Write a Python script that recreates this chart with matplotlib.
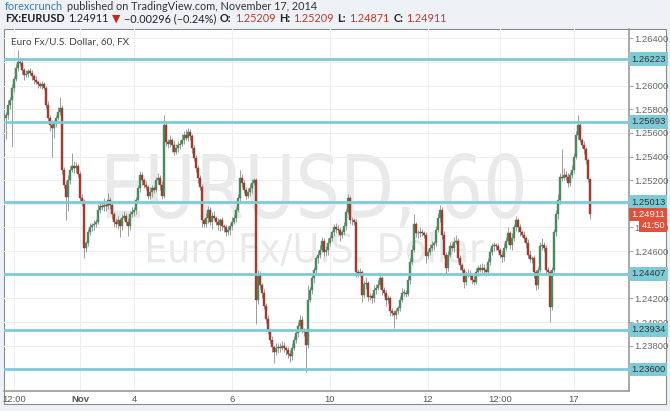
import matplotlib
matplotlib.use("Agg")
import matplotlib.pyplot as plt
import numpy as np
from matplotlib.patches import Rectangle, PathPatch
from matplotlib.textpath import TextPath
from matplotlib.font_manager import FontProperties
from matplotlib.transforms import Affine2D, IdentityTransform

# --- veri: EURUSD saatlik mumlar (kapanışlar), ilk açılış ---
ilk_acilis = 1.2573
kapanis = [
    1.2575, 1.2584, 1.2588, 1.2598, 1.2606, 1.2615, 1.2620, 1.2619, 1.2613, 1.2609,
    1.2610, 1.2612, 1.2611, 1.2608, 1.2605, 1.2603, 1.2601, 1.2600, 1.2601, 1.2598,
    1.2584, 1.2573, 1.2567, 1.2564, 1.2568, 1.2573, 1.2578, 1.2581, 1.2529, 1.2516,
    1.2506, 1.2520, 1.2529, 1.2532, 1.2530, 1.2532, 1.2525, 1.2505, 1.2502, 1.2463,
    1.2467, 1.2476, 1.2480, 1.2482, 1.2483, 1.2485, 1.2495, 1.2498, 1.2497, 1.2499,
    1.2498, 1.2503, 1.2499, 1.2491, 1.2485, 1.2483, 1.2486, 1.2481, 1.2488, 1.2490,
    1.2485, 1.2481, 1.2491, 1.2493, 1.2495, 1.2503, 1.2513, 1.2524, 1.2520, 1.2516,
    1.2514, 1.2507, 1.2510, 1.2513, 1.2512, 1.2520, 1.2522, 1.2516, 1.2507, 1.2567,
    1.2552, 1.2551, 1.2554, 1.2550, 1.2544, 1.2547, 1.2550, 1.2551, 1.2554, 1.2558,
    1.2556, 1.2561, 1.2557, 1.2547, 1.2539, 1.2530, 1.2522, 1.2514, 1.2486, 1.2483,
    1.2488, 1.2495, 1.2485, 1.2490, 1.2488, 1.2485, 1.2482, 1.2486, 1.2481, 1.2480,
    1.2476, 1.2478, 1.2481, 1.2485, 1.2488, 1.2495, 1.2505, 1.2522, 1.2518, 1.2512,
    1.2507, 1.2510, 1.2513, 1.2518, 1.2520, 1.2419, 1.2440, 1.2431, 1.2425, 1.2414,
    1.2403, 1.2393, 1.2385, 1.2379, 1.2375, 1.2378, 1.2379, 1.2378, 1.2380, 1.2378,
    1.2376, 1.2373, 1.2371, 1.2378, 1.2385, 1.2391, 1.2397, 1.2402, 1.2393, 1.2392,
    1.2381, 1.2419, 1.2427, 1.2437, 1.2444, 1.2454, 1.2457, 1.2461, 1.2469, 1.2459,
    1.2461, 1.2467, 1.2471, 1.2476, 1.2480, 1.2479, 1.2478, 1.2474, 1.2476, 1.2481,
    1.2493, 1.2505, 1.2486, 1.2486, 1.2485, 1.2442, 1.2441, 1.2442, 1.2423, 1.2432,
    1.2433, 1.2421, 1.2422, 1.2420, 1.2427, 1.2429, 1.2431, 1.2437, 1.2427, 1.2425,
    1.2419, 1.2420, 1.2409, 1.2408, 1.2406, 1.2409, 1.2412, 1.2419, 1.2425, 1.2425,
    1.2424, 1.2436, 1.2451, 1.2461, 1.2483, 1.2475, 1.2475, 1.2476, 1.2475, 1.2474,
    1.2456, 1.2459, 1.2463, 1.2465, 1.2467, 1.2478, 1.2488, 1.2495, 1.2474, 1.2457,
    1.2446, 1.2457, 1.2464, 1.2463, 1.2468, 1.2469, 1.2454, 1.2448, 1.2444, 1.2434,
    1.2440, 1.2441, 1.2439, 1.2436, 1.2434, 1.2442, 1.2446, 1.2444, 1.2446, 1.2444,
    1.2442, 1.2451, 1.2459, 1.2464, 1.2465, 1.2464, 1.2461, 1.2457, 1.2455, 1.2463,
    1.2469, 1.2475, 1.2465, 1.2471, 1.2480, 1.2486, 1.2480, 1.2476, 1.2474, 1.2471,
    1.2467, 1.2457, 1.2453, 1.2454, 1.2442, 1.2431, 1.2444, 1.2464, 1.2465, 1.2463,
    1.2444, 1.2442, 1.2413, 1.2444, 1.2476, 1.2491, 1.2503, 1.2523, 1.2522, 1.2524,
    1.2523, 1.2518, 1.2524, 1.2529, 1.2540, 1.2558, 1.2567, 1.2554, 1.2550, 1.2546,
    1.2537, 1.25209, 1.24911,
]
# fitil uzunlukları (pip)
ust_fitil = [
    3, 4, 2, 3, 2, 3, 10, 4, 3, 2, 3, 2, 3, 2, 2, 3, 2, 2, 3, 2,
    2, 3, 2, 4, 3, 2, 4, 9, 3, 2, 3, 4, 3, 11, 4, 3, 2, 3, 3, 2,
    2, 3, 4, 2, 3, 2, 5, 3, 4, 6, 2, 6, 3, 2, 2, 3, 4, 2, 3, 4,
    2, 3, 3, 4, 2, 3, 3, 4, 3, 2, 3, 2, 4, 3, 2, 3, 4, 2, 3, 8,
    2, 3, 4, 2, 3, 4, 3, 3, 5, 4, 5, 3, 2, 2, 3, 2, 3, 2, 3, 2,
    4, 3, 2, 3, 4, 2, 3, 2, 3, 2, 2, 3, 3, 4, 3, 2, 3, 7, 3, 2,
    2, 3, 4, 3, 2, 2, 4, 3, 2, 3, 2, 3, 2, 3, 2, 4, 3, 3, 4, 3,
    2, 3, 3, 4, 3, 2, 3, 4, 3, 2, 2, 12, 3, 4, 3, 2, 3, 4, 3, 2,
    3, 4, 3, 2, 3, 4, 3, 2, 3, 4, 3, 3, 2, 3, 2, 2, 3, 4, 2, 3,
    5, 2, 3, 3, 4, 3, 5, 4, 2, 3, 2, 3, 2, 3, 2, 3, 2, 3, 4, 3,
    2, 3, 3, 4, 8, 2, 3, 4, 3, 2, 2, 3, 3, 4, 2, 3, 4, 4, 2, 3,
    2, 3, 4, 3, 4, 5, 2, 3, 2, 2, 3, 4, 3, 2, 3, 4, 2, 3, 4, 3,
    2, 3, 4, 3, 3, 2, 3, 2, 3, 4, 3, 5, 2, 4, 3, 4, 2, 3, 2, 3,
    2, 3, 4, 2, 3, 2, 3, 4, 6, 3, 2, 3, 2, 3, 3, 4, 5, 3, 23, 6,
    4, 3, 3, 4, 3, 4, 8, 3, 2, 3, 2, 2, 0,
]
alt_fitil = [
    18, 3, 4, 40, 3, 2, 3, 2, 3, 4, 2, 3, 2, 3, 4, 2, 3, 2, 3, 2,
    3, 4, 5, 24, 8, 3, 2, 3, 4, 3, 20, 12, 3, 2, 4, 3, 2, 3, 4, 9,
    4, 3, 2, 3, 4, 3, 2, 3, 2, 3, 4, 2, 3, 4, 5, 3, 4, 9, 3, 2,
    3, 8, 3, 2, 3, 4, 2, 3, 4, 3, 2, 3, 3, 4, 3, 2, 3, 4, 3, 2,
    3, 4, 3, 6, 3, 2, 3, 4, 2, 3, 2, 3, 3, 4, 3, 3, 4, 2, 6, 3,
    3, 4, 3, 6, 2, 3, 4, 5, 3, 4, 3, 2, 4, 3, 2, 3, 2, 3, 4, 3,
    3, 2, 3, 4, 2, 21, 4, 3, 5, 3, 4, 3, 3, 4, 10, 3, 4, 3, 2, 3,
    4, 3, 5, 3, 2, 3, 4, 3, 2, 4, 23, 3, 2, 3, 4, 3, 4, 3, 2, 4,
    3, 4, 3, 2, 3, 4, 3, 5, 3, 2, 3, 2, 3, 4, 3, 4, 3, 2, 6, 3,
    4, 3, 2, 4, 3, 3, 2, 3, 4, 3, 5, 3, 4, 3, 11, 3, 2, 3, 2, 3,
    3, 2, 4, 3, 2, 3, 4, 3, 2, 3, 6, 3, 2, 3, 4, 3, 2, 3, 4, 3,
    5, 3, 2, 3, 4, 2, 3, 4, 3, 5, 3, 2, 3, 4, 3, 2, 3, 2, 3, 4,
    3, 2, 3, 2, 4, 3, 2, 3, 4, 3, 2, 3, 3, 4, 2, 3, 4, 3, 2, 3,
    4, 3, 2, 3, 5, 4, 3, 2, 3, 4, 3, 2, 13, 3, 2, 3, 4, 3, 3, 2,
    3, 4, 3, 2, 3, 2, 3, 2, 3, 4, 3, 2, 4,
]

zaman_etiket = ["12:00", "Nov", "4", "6", "10", "12", "12:00", "17"]
zaman_mum = [4, 37, 64, 113, 162, 211, 247, 284]

seviyeler = [1.26223, 1.25693, 1.25013, 1.24407, 1.23934, 1.23600]
fiyat_tikleri = [1.264, 1.262, 1.260, 1.258, 1.256, 1.254, 1.252, 1.250,
                 1.248, 1.246, 1.244, 1.242, 1.240, 1.238, 1.236]
# seviye kutularının tamamen örttüğü tikler
gizli_tikler = [1.262, 1.250, 1.244, 1.236]
son_fiyat = 1.24911
geri_sayim = "41:50"

W, H = 670, 411
YESIL = "#4a8a5c"
KIRMIZI = "#a53a2c"
CAMGOBEGI = "#7dcbd7"

fig = plt.figure(figsize=(W / 100, H / 100), dpi=100)
fig.patch.set_facecolor("#eef1f5")

# grafik çerçevesi
fig.add_artist(Rectangle((4 / W, 7 / H), 662 / W, 375 / H, transform=fig.transFigure,
                         facecolor="white", edgecolor="#8a8a8a", lw=0.8, zorder=0))

ax = fig.add_axes([4 / W, 20 / H, 625 / W, 362 / H])
ax.set_facecolor("none")

k = np.array(kapanis)
a = np.array([ilk_acilis] + kapanis[:-1])
pip = 0.0001
ust = np.maximum(a, k) + np.array(ust_fitil) * pip
alt = np.minimum(a, k) - np.array(alt_fitil) * pip
idx = np.arange(len(k))
renk = np.where(k >= a, YESIL, KIRMIZI)

ax.vlines(idx, alt, ust, color="#9c9c9c", lw=0.7, zorder=3)
govde = np.maximum(np.abs(k - a), 0.00003)
ax.bar(idx, govde, bottom=np.minimum(a, k), width=0.8, color=renk,
       edgecolor=renk, lw=0.3, zorder=4)

for s in seviyeler:
    ax.axhline(s, color=CAMGOBEGI, lw=2, zorder=5)

ax.set_xlim(-1, 311.5)
ax.set_ylim(1.23417, 1.26479)

ax.set_xticks(zaman_mum)
ax.set_xticklabels(zaman_etiket)
ax.set_yticks(fiyat_tikleri)
ax.set_yticklabels(["" if p in gizli_tikler else f"{p:.5f}" for p in fiyat_tikleri])
ax.yaxis.tick_right()
ax.tick_params(axis="y", length=3, color="#aaaaaa", labelsize=6.8, labelcolor="#666666", pad=1)
ax.tick_params(axis="x", length=0, labelsize=6.8, labelcolor="#555555", pad=3)
for t in ax.get_xticklabels() + ax.get_yticklabels():
    t.set_family("Liberation Sans")
ax.get_xticklabels()[1].set_fontweight("bold")
ax.grid(True, color="#eeeeee", lw=0.8, zorder=0)
for yer in ["left", "top"]:
    ax.spines[yer].set_visible(False)
for yer in ["right", "bottom"]:
    ax.spines[yer].set_color("#9a9a9a")
    ax.spines[yer].set_linewidth(1.2)

# fiyat ekseni etiket kutuları
yt = ax.get_yaxis_transform()
for s in seviyeler:
    ax.text(1.003, s, f"{s:.5f}", transform=yt, ha="left", va="center", fontsize=6.8,
            family="Liberation Sans", color="#333333", clip_on=False, zorder=10,
            bbox=dict(boxstyle="square,pad=0.25", fc=CAMGOBEGI, ec="none"))
ax.text(1.003, son_fiyat, f"{son_fiyat:.5f}", transform=yt, ha="left", va="center",
        fontsize=6.8, family="Liberation Sans", color="white", clip_on=False, zorder=10,
        bbox=dict(boxstyle="square,pad=0.25", fc="#e0503d", ec="none"))
ax.text(1.0575, 1.24821, geri_sayim, transform=yt, ha="right", va="center",
        fontsize=6.8, family="Liberation Sans", color="white", clip_on=False, zorder=10,
        bbox=dict(boxstyle="square,pad=0.25", fc="#e0503d", ec="none"))

# filigran
def filigran(metin, x0, x1, y0, y1):
    tp = TextPath((0, 0), metin, size=1, prop=FontProperties(family="DejaVu Sans"))
    e = tp.get_extents()
    tr = Affine2D().translate(-e.x0, -e.y0).scale((x1 - x0) / e.width, (y1 - y0) / e.height) \
        .translate(x0, H - y1)
    fig.add_artist(PathPatch(tp, transform=tr + IdentityTransform(), fc="#e9e9e9",
                             ec="none", zorder=1))

filigran("EURUSD, 60", 107, 523, 153, 228)
filigran("Euro Fx/U.S. Dollar", 148, 484, 232, 266)
ax.set_zorder(2)

fig.text(11 / W, 1 - 42 / H, "Euro Fx/U.S. Dollar, 60, FX", fontsize=7.2, family="Lato",
         color="#444444", va="center")

# başlık satırları
r = fig.canvas.get_renderer()

def satir(parcalar, x, y, bosluk):
    for metin, ozel in parcalar:
        t = fig.text(x / W, 1 - y / H, metin, va="center", fontsize=7.8,
                     family=["Lato", "DejaVu Sans"], **ozel)
        x = t.get_window_extent(r).x1 + bosluk

satir([("forexcrunch", dict(color="#2f7fb5")),
       ("published on TradingView.com, November 17, 2014", dict(color="#333333"))], 5, 7, 4)
satir([("FX:EURUSD", dict(color="#222222", fontweight="bold")),
       ("1.24911", dict(color="#222222")),
       ("▼", dict(color="#c0281e")),
       ("\u22120.00296 (\u22120.24%)", dict(color="#222222")),
       ("O:", dict(color="#222222", fontweight="bold")),
       ("1.25209", dict(color="#c0392b")),
       ("H:", dict(color="#222222", fontweight="bold")),
       ("1.25209", dict(color="#c0392b")),
       ("L:", dict(color="#222222", fontweight="bold")),
       ("1.24871", dict(color="#c0392b")),
       ("C:", dict(color="#222222", fontweight="bold")),
       ("1.24911", dict(color="#c0392b"))], 5, 18.5, 3.5)

fig.savefig("out.png", dpi=100, facecolor=fig.get_facecolor())
